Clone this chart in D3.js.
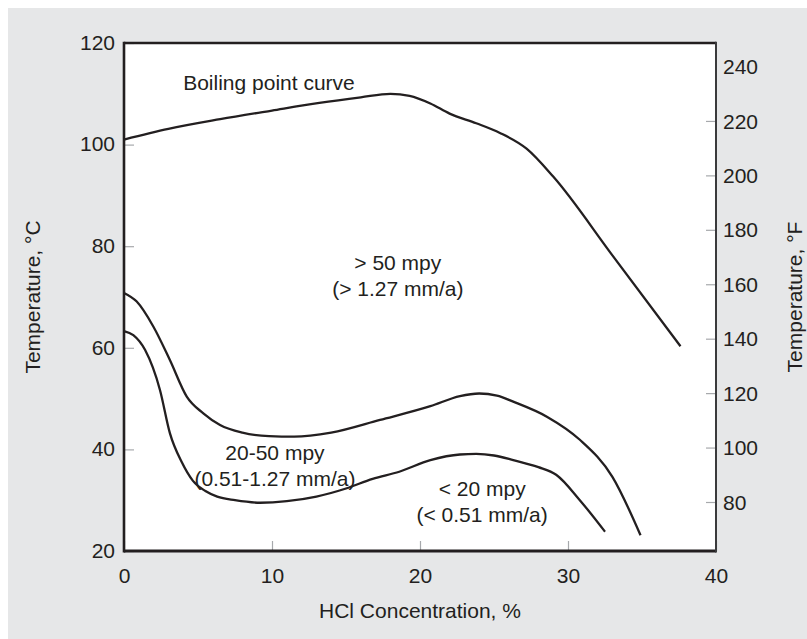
<!DOCTYPE html>
<html>
<head>
<meta charset="utf-8">
<script src="https://cdn.jsdelivr.net/npm/d3@7"></script>
<style>
  html, body { margin: 0; padding: 0; background: #ffffff; }
  svg { display: block; }
  text { font-family: "Liberation Sans", Arial, Helvetica, sans-serif; fill: #231f20; }
</style>
</head>
<body>
<svg id="chart" width="807" height="639"></svg>
<script>
// HCl concentration (%) vs. temperature (°C) for each iso-corrosion line
const boilingX = [0, 3, 6.5, 10, 13.2, 16, 18, 19.3, 20.7, 22, 23.8, 25.4, 27.2, 29, 33, 37.6];
const boilingC = [101.0, 103.1, 105.0, 106.7, 108.2, 109.3, 110.0, 109.6, 108.1, 106.1, 104.2, 102.3, 99.2, 93.7, 78.2, 60.3];

const mpy50X = [0, 0.86, 1.98, 3.1, 4.24, 5.36, 6.49, 8, 9.8, 11.5, 14, 17.3, 20.7, 22.7, 24.0, 25.2, 26.3, 28.6, 30.8, 33.0, 34.9];
const mpy50C = [70.8, 69.1, 64.2, 57.6, 50.4, 47.1, 44.8, 43.3, 42.6, 42.5, 43.3, 45.8, 48.5, 50.5, 51.0, 50.6, 49.4, 46.4, 41.9, 34.6, 23.1];

const mpy20X = [0, 0.63, 1.42, 2.43, 3.1, 3.9, 4.66, 5.5, 6.3, 7.5, 9.2, 11, 13, 15, 16.8, 18.6, 20.7, 22.7, 23.8, 25, 26.3, 28, 29.2, 30.8, 32.5];
const mpy20C = [63.3, 62.5, 59.6, 51.7, 43.2, 37.5, 33.8, 31.8, 30.7, 30.0, 29.5, 29.8, 30.7, 32.3, 34.2, 35.6, 37.9, 39.0, 39.1, 38.8, 37.9, 36.5, 35.0, 30.0, 23.8];

// Axis ticks
const xTicks = [0, 10, 20, 30, 40];
const cTicks = [20, 40, 60, 80, 100, 120];
const fTicks = [80, 100, 120, 140, 160, 180, 200, 220, 240];

// Region labels: [concentration %, °C of first baseline, lines]
const regionLabels = [
  { x: 18.5, c: 75.4, lines: ["> 50 mpy", "(> 1.27 mm/a)"] },
  { x: 10.2, c: 38.0, lines: ["20-50 mpy", "(0.51-1.27 mm/a)"] },
  { x: 24.2, c: 30.9, lines: ["< 20 mpy", "(< 0.51 mm/a)"] }
];
const boilingLabel = { x: 4.0, c: 110.75, text: "Boiling point curve" };

const svg = d3.select("#chart");
const W = 807, H = 639;
const plot = { left: 124, right: 716, top: 43, bottom: 551 };

const x = d3.scaleLinear().domain([0, 40]).range([plot.left, plot.right]);
const yC = d3.scaleLinear().domain([20, 120]).range([plot.bottom, plot.top]);
const yF = d3.scaleLinear().domain([80, 240]).range([502, 66.5]);

// Page background panel
svg.append("rect").attr("x", 8).attr("y", 8).attr("width", W - 8).attr("height", H - 8).attr("fill", "#e6e7e8");
svg.append("rect")
  .attr("x", plot.left).attr("y", plot.top)
  .attr("width", plot.right - plot.left).attr("height", plot.bottom - plot.top)
  .attr("fill", "#ffffff");

const fontSize = 21;

function styleAxis(g) {
  g.select(".domain").remove();
  g.selectAll(".tick line").attr("stroke", "#a7a9ac").attr("stroke-width", 1.2);
  g.selectAll(".tick text").attr("font-size", fontSize).attr("fill", "#231f20")
    .attr("font-family", "'Liberation Sans', Arial, Helvetica, sans-serif");
}

svg.append("g")
  .attr("transform", `translate(${plot.left},0)`)
  .call(d3.axisLeft(yC).tickValues(cTicks).tickSize(-10).tickPadding(9).tickFormat(d3.format("d")))
  .call(styleAxis)
  .call(g => g.selectAll(".tick text").attr("dy", "0.3em"));

svg.append("g")
  .attr("transform", `translate(${plot.right},0)`)
  .call(d3.axisRight(yF).tickValues(fTicks).tickSize(-10).tickPadding(7).tickFormat(d3.format("d")))
  .call(styleAxis)
  .call(g => g.selectAll(".tick text").attr("dy", "0.34em"))
  .call(g => g.selectAll(".tick").filter(d => d === 240).select("line").remove());

svg.append("g")
  .attr("transform", `translate(0,${plot.bottom})`)
  .call(d3.axisBottom(x).tickValues(xTicks).tickSize(-10).tickPadding(17).tickFormat(d3.format("d")))
  .call(styleAxis);

// Frame
const frame = svg.append("g").attr("fill", "none");
frame.append("line").attr("x1", plot.left).attr("x2", plot.right).attr("y1", plot.top).attr("y2", plot.top)
  .attr("stroke", "#231f20").attr("stroke-width", 2.6);
frame.append("line").attr("x1", plot.left).attr("x2", plot.right).attr("y1", plot.bottom).attr("y2", plot.bottom)
  .attr("stroke", "#231f20").attr("stroke-width", 2.8);
frame.append("line").attr("x1", plot.left).attr("x2", plot.left).attr("y1", plot.top - 1.3).attr("y2", plot.bottom + 1.4)
  .attr("stroke", "#231f20").attr("stroke-width", 2.6);
frame.append("line").attr("x1", plot.right).attr("x2", plot.right).attr("y1", plot.top - 1.3).attr("y2", plot.bottom + 1.4)
  .attr("stroke", "#3a3a3c").attr("stroke-width", 2);

// Curves
const line = d3.line().x(d => x(d[0])).y(d => yC(d[1])).curve(d3.curveMonotoneX);
const curves = [
  d3.zip(boilingX, boilingC),
  d3.zip(mpy50X, mpy50C),
  d3.zip(mpy20X, mpy20C)
];
svg.append("g").selectAll("path").data(curves).join("path")
  .attr("d", line)
  .attr("fill", "none")
  .attr("stroke", "#231f20")
  .attr("stroke-width", 2.3)
  .attr("stroke-linejoin", "round");

// Labels
svg.append("text")
  .attr("x", x(boilingLabel.x)).attr("y", yC(boilingLabel.c))
  .attr("font-size", fontSize)
  .text(boilingLabel.text);

regionLabels.forEach(r => {
  const t = svg.append("text")
    .attr("x", x(r.x)).attr("y", yC(r.c))
    .attr("font-size", fontSize)
    .attr("text-anchor", "middle");
  r.lines.forEach((s, i) => {
    t.append("tspan").attr("x", x(r.x)).attr("dy", i === 0 ? 0 : 26).text(s);
  });
});

// Axis titles
svg.append("text")
  .attr("transform", `translate(40,${(plot.top + plot.bottom) / 2}) rotate(-90)`)
  .attr("text-anchor", "middle")
  .attr("font-size", fontSize)
  .text("Temperature, °C");

svg.append("text")
  .attr("transform", `translate(802,${(plot.top + plot.bottom) / 2}) rotate(-90)`)
  .attr("text-anchor", "middle")
  .attr("font-size", fontSize)
  .text("Temperature, °F");

svg.append("text")
  .attr("x", (plot.left + plot.right) / 2).attr("y", 618)
  .attr("text-anchor", "middle")
  .attr("font-size", fontSize)
  .text("HCl Concentration, %");
</script>
</body>
</html>
